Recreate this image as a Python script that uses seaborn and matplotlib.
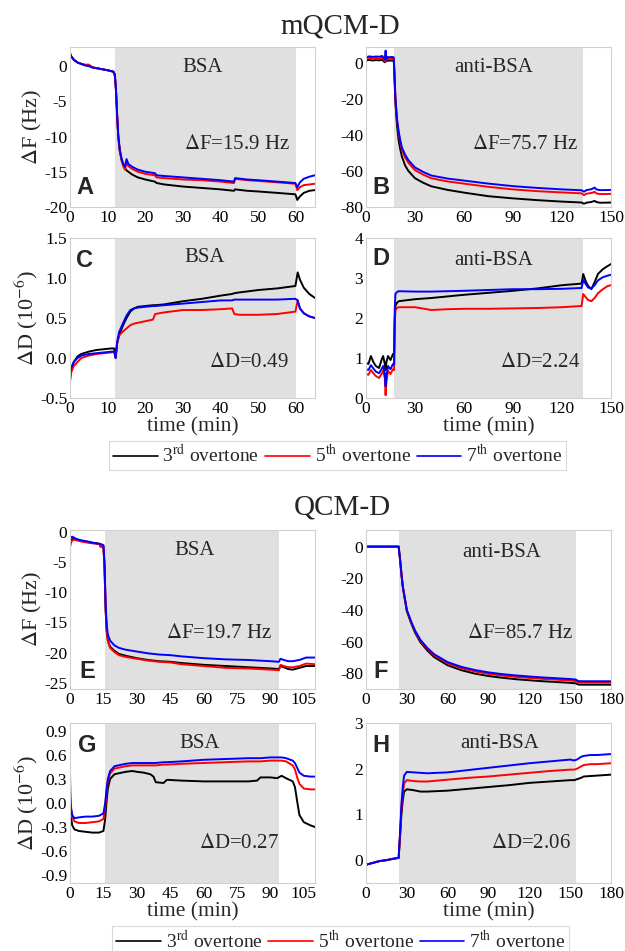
import pandas as pd
import matplotlib
matplotlib.use("Agg")
import matplotlib.pyplot as plt
import seaborn as sns
from matplotlib.ticker import MultipleLocator, AutoMinorLocator, FormatStrFormatter
from matplotlib.lines import Line2D

# ---------------- mQCM-D ----------------
# A: BSA, frequency
tA = [0, 0.3, 1, 2, 3, 4, 5, 6, 8, 10, 11.5, 11.9, 12.2, 12.5, 12.8, 13.2, 13.7, 14.2, 14.6, 15, 15.5,
      16.5, 18, 20, 22.5, 23, 25, 30, 35, 40, 43.5, 43.8, 47, 50, 55, 59.8, 60.3, 61, 62, 63.5, 65]
fA3 = [1.8, 1.4, 0.9, 0.5, 0.3, 0.1, 0.0, -0.2, -0.4, -0.6, -0.8, -1.2, -3.5, -7, -10, -12, -13.3, -14.0, -14.5, -14.8, -15.0,
       -15.4, -15.8, -16.1, -16.4, -16.6, -16.8, -17.1, -17.3, -17.5, -17.7, -17.5, -17.7, -17.8, -18.0, -18.2, -19.0, -18.5, -18.0, -17.7, -17.6]
fA5 = [1.8, 1.4, 0.9, 0.5, 0.3, 0.2, 0.2, -0.2, -0.4, -0.6, -0.8, -1.5, -3.5, -7, -10, -12, -13.5, -14.3, -14.7, -13.6, -14.2,
       -14.6, -15.0, -15.3, -15.5, -15.8, -15.9, -16.1, -16.2, -16.4, -16.6, -16.0, -16.2, -16.3, -16.5, -16.7, -17.6, -17.2, -16.9, -16.8, -16.7]
fA7 = [1.8, 1.4, 0.9, 0.5, 0.3, 0.1, 0.0, -0.2, -0.4, -0.6, -0.8, -1.2, -3.3, -6.8, -9.8, -11.8, -13.2, -14.0, -14.3, -13.2, -13.9,
       -14.3, -14.7, -15.0, -15.2, -15.5, -15.6, -15.8, -16.0, -16.2, -16.4, -15.9, -16.1, -16.2, -16.4, -16.6, -17.2, -16.5, -16.0, -15.7, -15.5]

# B: anti-BSA, frequency
tB = [0, 2, 4, 6, 8, 10, 11.5, 12, 12.5, 13, 14, 16, 17, 17.5, 18, 19, 20, 21, 22, 24, 26, 30, 35, 40, 50, 60,
      75, 90, 105, 120, 132, 133.5, 135, 138, 140, 141, 143, 146, 150]
fB3 = [1.5, 1.8, 1.5, 1.7, 1.6, 1.8, 0.5, 2.5, 1.0, 1.5, 1.4, 1.5, 1.3, -10, -22, -35, -43, -48, -52, -57, -60, -64, -66.5, -68.5, -70.5, -72,
       -74, -75.2, -76.2, -77, -77.5, -78.2, -77.6, -77.2, -76.6, -77.2, -77.6, -77.6, -77.5]
fB5 = [2.5, 3.0, 2.6, 2.8, 2.7, 3.0, 1.0, 4.5, 1.5, 2.5, 2.4, 2.6, 2.3, -8, -20, -32, -39, -44, -48, -52.5, -55.5, -59.5, -62, -64, -65.8, -67,
       -68.8, -70.2, -71.2, -71.9, -72.4, -73.4, -72.6, -72.2, -71.6, -72.4, -72.8, -72.8, -72.7]
fB7 = [3.3, 3.8, 3.5, 3.7, 3.6, 4.0, 2.0, 7.0, 2.0, 3.5, 3.3, 3.5, 3.2, -7, -19, -31, -38, -43, -47, -51, -54, -58, -60.5, -62.5, -64.2, -65.3,
       -67, -68.4, -69.4, -70.2, -70.7, -71.5, -70.6, -70.1, -69.2, -70.2, -70.6, -70.6, -70.5]

# C: BSA, dissipation
tC = [0, 0.3, 1, 2, 3, 5, 7, 9, 11, 11.7, 12.1, 12.5, 13, 14, 15, 16, 17, 18, 20, 22, 22.6, 25, 30, 35, 40, 43,
      43.6, 45, 50, 55, 59.8, 60.4, 61, 62, 63.5, 65]
dC3 = [-0.3, -0.15, -0.05, 0.02, 0.05, 0.08, 0.1, 0.11, 0.12, 0.12, 0.0, 0.18, 0.28, 0.4, 0.5, 0.58, 0.62, 0.64, 0.65, 0.66, 0.66, 0.67, 0.71, 0.74, 0.78, 0.8,
       0.81, 0.82, 0.85, 0.87, 0.9, 1.07, 0.98, 0.88, 0.8, 0.75]
dC5 = [-0.25, -0.18, -0.1, -0.05, 0.0, 0.03, 0.05, 0.06, 0.07, 0.08, 0.0, 0.18, 0.28, 0.33, 0.37, 0.41, 0.43, 0.44, 0.46, 0.48, 0.55, 0.57, 0.6, 0.6, 0.61, 0.62,
       0.55, 0.54, 0.54, 0.55, 0.58, 0.72, 0.62, 0.56, 0.52, 0.5]
dC7 = [-0.2, -0.12, -0.05, 0.0, 0.03, 0.05, 0.06, 0.07, 0.08, 0.08, 0.0, 0.2, 0.32, 0.43, 0.53, 0.6, 0.62, 0.63, 0.64, 0.65, 0.65, 0.66, 0.68, 0.7, 0.72, 0.72,
       0.73, 0.73, 0.73, 0.73, 0.74, 0.72, 0.62, 0.56, 0.52, 0.5]

# D: anti-BSA, dissipation
tD = [0, 1.5, 3, 4.5, 6, 8, 9.5, 10.5, 11.5, 12, 12.5, 13.5, 15, 16.5, 17.2, 17.6, 18, 19, 20, 30, 40, 50, 60, 75, 90,
      105, 120, 132, 133, 134.5, 136, 138, 140, 142, 145, 148, 150]
dD3 = [0.88, 0.85, 1.05, 0.9, 0.8, 0.75, 0.95, 1.05, 0.85, 0.7, 0.9, 1.05, 0.95, 1.1, 1.1, 2.0, 2.3, 2.38, 2.42, 2.47, 2.5, 2.54, 2.58, 2.63, 2.68,
       2.74, 2.82, 2.86, 3.1, 2.92, 2.8, 2.72, 2.9, 3.1, 3.22, 3.3, 3.35]
dD5 = [0.6, 0.58, 0.7, 0.62, 0.55, 0.5, 0.6, 0.68, 0.5, 0.07, 0.4, 0.68, 0.6, 0.72, 0.7, 1.8, 2.2, 2.25, 2.27, 2.27, 2.2, 2.22, 2.23, 2.23, 2.24,
       2.25, 2.27, 2.3, 2.6, 2.52, 2.45, 2.42, 2.5, 2.62, 2.72, 2.8, 2.82]
dD7 = [0.72, 0.7, 0.82, 0.74, 0.66, 0.62, 0.72, 0.8, 0.62, 0.3, 0.55, 0.8, 0.72, 0.85, 0.84, 2.2, 2.6, 2.65, 2.67, 2.66, 2.66, 2.67, 2.68, 2.7, 2.72,
       2.72, 2.73, 2.75, 2.95, 2.85, 2.76, 2.74, 2.82, 2.94, 3.02, 3.06, 3.08]

# ---------------- QCM-D ----------------
# E: BSA, frequency
tE = [0, 0.5, 1, 2, 3, 5, 8, 10, 12, 13.3, 13.7, 15, 15.5, 16, 16.5, 17, 18, 20, 22, 25, 30, 35, 40, 45, 50, 60,
      70, 80, 90, 93.8, 94.5, 96, 98, 100, 103, 106, 110]
fE3 = [-1.8, -1.4, -1.2, -1.2, -1.3, -1.5, -1.7, -1.8, -1.9, -2.0, -2.4, -2.4, -6, -13, -16.5, -18, -19, -19.7, -20.2, -20.5, -20.9, -21.2, -21.4, -21.5, -21.7, -22.0,
       -22.2, -22.4, -22.6, -22.7, -22.2, -22.4, -22.7, -22.8, -22.5, -22.2, -22.2]
fE5 = [-2.5, -1.8, -1.4, -1.3, -1.4, -1.6, -1.8, -1.9, -2.0, -2.0, -2.5, -2.4, -6, -13, -16.5, -18, -19.2, -19.9, -20.4, -20.7, -21.0, -21.3, -21.5, -21.6, -21.9, -22.2,
       -22.5, -22.6, -22.8, -22.9, -22.0, -22.2, -22.4, -22.4, -22.2, -21.8, -21.9]
fE7 = [-1.2, -0.9, -0.8, -1.0, -1.2, -1.4, -1.6, -1.8, -1.9, -2.0, -2.0, -2.2, -5, -12, -15.5, -17, -18, -18.8, -19.2, -19.5, -19.8, -20.1, -20.3, -20.4, -20.6, -20.9,
       -21.1, -21.2, -21.4, -21.5, -21.0, -21.2, -21.4, -21.4, -21.2, -20.8, -20.8]

# F: anti-BSA, frequency
tF = [0, 10, 20, 24, 25, 26, 27, 28, 30, 33, 36, 40, 45, 50, 60, 70, 80, 90, 100, 110, 120, 130, 140, 150,
      154, 156, 160, 170, 180]
fF3 = [0, 0, 0, 0, -8, -17, -25.2, -30.5, -40.8, -48, -54.3, -60.5, -65.6, -69.8, -75, -78.1, -80.3, -81.8, -82.9, -83.8, -84.5, -85.1, -85.6, -86.1,
       -86.4, -87.2, -87.3, -87.3, -87.3]
fF5 = [0, 0, 0, 0, -8, -17, -25, -30.2, -40.3, -47.4, -53.5, -59.6, -64.6, -68.7, -73.8, -76.8, -78.9, -80.4, -81.5, -82.3, -83.0, -83.6, -84.1, -84.6,
       -84.9, -85.9, -86.0, -86.0, -86.0]
fF7 = [0, 0, 0, 0, -8, -17, -25, -30, -40, -47, -53, -59, -64, -68, -73, -76, -78, -79.5, -80.6, -81.4, -82.1, -82.7, -83.2, -83.7,
       -84, -85, -85.1, -85.1, -85.1]

# G: BSA, dissipation
tG = [0, 0.3, 1, 2, 4, 7, 10, 13, 15, 15.8, 16.5, 17, 18, 20, 25, 28, 30, 33, 36, 37.5, 38.5, 42, 43.5, 50, 60,
      70, 80, 84, 85.5, 90, 93, 95, 97, 100, 101, 102, 103, 105, 108, 110]
dG3 = [0.05, -0.15, -0.28, -0.33, -0.35, -0.36, -0.37, -0.37, -0.35, -0.2, 0.05, 0.18, 0.3, 0.36, 0.39, 0.4, 0.39, 0.38, 0.36, 0.33, 0.26, 0.25, 0.29, 0.28, 0.27,
       0.27, 0.27, 0.28, 0.32, 0.32, 0.31, 0.34, 0.31, 0.27, 0.2, 0.02, -0.15, -0.24, -0.28, -0.3]
dG5 = [0.38, 0.0, -0.18, -0.23, -0.25, -0.25, -0.24, -0.23, -0.2, -0.05, 0.15, 0.27, 0.37, 0.43, 0.46, 0.47, 0.47, 0.47, 0.47, 0.47, 0.47, 0.48, 0.48, 0.49, 0.5,
       0.51, 0.52, 0.52, 0.52, 0.53, 0.53, 0.53, 0.52, 0.47, 0.42, 0.32, 0.24, 0.18, 0.17, 0.17]
dG7 = [0.15, -0.05, -0.15, -0.19, -0.18, -0.17, -0.17, -0.16, -0.13, 0.0, 0.2, 0.3, 0.4, 0.46, 0.49, 0.5, 0.5, 0.5, 0.5, 0.5, 0.5, 0.51, 0.51, 0.52, 0.54,
       0.55, 0.56, 0.56, 0.56, 0.57, 0.57, 0.57, 0.56, 0.53, 0.5, 0.44, 0.38, 0.34, 0.33, 0.33]

# H: anti-BSA, dissipation
tH = [0, 5, 10, 15, 20, 24, 25, 26, 27, 28, 30, 35, 40, 45, 60, 75, 90, 105, 120, 135, 150, 153, 155, 158,
      160, 165, 170, 180]
dH3 = [-0.1, -0.06, -0.02, 0.0, 0.03, 0.05, 0.5, 1.0, 1.3, 1.5, 1.55, 1.53, 1.5, 1.5, 1.52, 1.56, 1.6, 1.64, 1.69, 1.72, 1.75, 1.75, 1.77, 1.8,
       1.83, 1.84, 1.85, 1.87]
dH5 = [-0.1, -0.06, -0.02, 0.0, 0.03, 0.05, 0.55, 1.1, 1.45, 1.68, 1.75, 1.73, 1.72, 1.72, 1.76, 1.8, 1.83, 1.87, 1.91, 1.95, 1.98, 1.98, 2.0, 2.05,
       2.08, 2.1, 2.1, 2.12]
dH7 = [-0.1, -0.06, -0.02, 0.0, 0.03, 0.05, 0.6, 1.2, 1.6, 1.85, 1.93, 1.92, 1.91, 1.9, 1.92, 1.97, 2.02, 2.07, 2.12, 2.16, 2.2, 2.18, 2.2, 2.26,
       2.28, 2.3, 2.3, 2.32]

overtones = [r"3$^{\rm rd}$ overtone", r"5$^{\rm th}$ overtone", r"7$^{\rm th}$ overtone"]
colors = ["black", "#ff0000", "#0000ff"]

sns.set_style("white")
plt.rcParams["font.family"] = ["Liberation Serif", "DejaVu Serif"]
plt.rcParams["mathtext.fontset"] = "stix"
plt.rcParams["axes.unicode_minus"] = False

fig = plt.figure(figsize=(6.25, 9.51), dpi=100)

W, H = 625, 951
def axes_at(x0, y0, x1, y1):
    return fig.add_axes([x0 / W, 1 - y1 / H, (x1 - x0) / W, (y1 - y0) / H])

# panel: data, x range, x step, y range, y ticks, shaded span, labels
panels = [
    ("A", (70, 47, 315, 207), tA, [fA3, fA5, fA7], (0, 65), 10, (-20, 2.7), [-20, -15, -10, -5, 0], None,
     (12, 60), "BSA", (0.54, 0.87), r"$\Delta$F=15.9 Hz", (0.68, 0.39), (0.06, 0.12)),
    ("B", (366, 47, 611, 207), tB, [fB3, fB5, fB7], (0, 150), 30, (-80, 9), [-80, -60, -40, -20, 0], None,
     (17, 133), "anti-BSA", (0.52, 0.87), r"$\Delta$F=75.7 Hz", (0.65, 0.39), (0.06, 0.12)),
    ("C", (70, 238, 315, 398), tC, [dC3, dC5, dC7], (0, 65), 10, (-0.5, 1.5), [-0.5, 0, 0.5, 1.0, 1.5], "%.1f",
     (12, 60), "BSA", (0.55, 0.88), r"$\Delta$D=0.49", (0.73, 0.22), (0.06, 0.86)),
    ("D", (366, 238, 611, 398), tD, [dD3, dD5, dD7], (0, 150), 30, (0, 4), [0, 1, 2, 3, 4], "%d",
     (17, 133), "anti-BSA", (0.52, 0.86), r"$\Delta$D=2.24", (0.71, 0.22), (0.06, 0.87)),
    ("E", (70, 530, 315, 689), tE, [fE3, fE5, fE7], (0, 110), 15, (-26, 0.3), [-25, -20, -15, -10, -5, 0], None,
     (15.5, 94), "BSA", (0.51, 0.87), r"$\Delta$F=19.7 Hz", (0.61, 0.35), (0.07, 0.11)),
    ("F", (366, 530, 611, 689), tF, [fF3, fF5, fF7], (0, 180), 30, (-90, 10.5), [-80, -60, -40, -20, 0], None,
     (24.5, 154.5), "anti-BSA", (0.555, 0.86), r"$\Delta$F=85.7 Hz", (0.63, 0.35), (0.06, 0.11)),
    ("G", (70, 723, 315, 883), tG, [dG3, dG5, dG7], (0, 110), 15, (-1.0, 1.0), [-0.9, -0.6, -0.3, 0, 0.3, 0.6, 0.9], "%.1f",
     (15.5, 94), "BSA", (0.53, 0.87), r"$\Delta$D=0.27", (0.69, 0.25), (0.07, 0.86)),
    ("H", (366, 723, 611, 883), tH, [dH3, dH5, dH7], (0, 180), 30, (-0.5, 3), [0, 1, 2, 3], "%d",
     (24.5, 154.5), "anti-BSA", (0.545, 0.87), r"$\Delta$D=2.06", (0.675, 0.25), (0.06, 0.86)),
]

for (tag, box, t, series, xlim, xstep, ylim, yticks, yfmt, span, lab, labpos, delta, dpos, tagpos) in panels:
    ax = axes_at(*box)
    ax.axvspan(*span, color="#e0e0e0", lw=0, zorder=0)
    for vals, c in zip(series, colors):
        df = pd.DataFrame({"t": t, "v": vals})
        sns.lineplot(data=df, x="t", y="v", color=c, lw=1.4, ax=ax, estimator=None, sort=False)
    ax.set_xlim(*xlim)
    ax.set_ylim(*ylim)
    ax.xaxis.set_major_locator(MultipleLocator(xstep))
    ax.xaxis.set_minor_locator(AutoMinorLocator(2))
    ax.set_yticks(yticks)
    ax.yaxis.set_minor_locator(AutoMinorLocator(2))
    if yfmt:
        ax.yaxis.set_major_formatter(FormatStrFormatter(yfmt))
    ax.tick_params(which="both", direction="in", colors="#b0b0b0", labelcolor="black",
                   labelsize=12.5, pad=2)
    ax.tick_params(which="major", length=3)
    ax.tick_params(which="minor", length=2)
    for s in ax.spines.values():
        s.set_color("#d0d0d0")
        s.set_linewidth(0.8)
    ax.set_xlabel("")
    ax.set_ylabel("")
    if tag in ("A", "E"):
        ax.set_ylabel(r"$\Delta$F (Hz)", fontsize=16, labelpad=0)
    if tag in ("C", "G"):
        ax.set_ylabel(r"$\Delta$D (10$^{-6}$)", fontsize=16, labelpad=0)
    if tag in ("C", "D", "G", "H"):
        ax.set_xlabel("time (min)", fontsize=15.5, labelpad=0)
    ax.text(*labpos, lab, transform=ax.transAxes, ha="center", va="center", fontsize=15)
    ax.text(*dpos, delta, transform=ax.transAxes, ha="center", va="center", fontsize=15)
    ax.text(*tagpos, tag, transform=ax.transAxes, ha="center", va="center", fontsize=17,
            fontweight="bold", family=["Liberation Sans", "DejaVu Sans"])

fig.text(0.544, 0.972, "mQCM-D", ha="center", va="center", fontsize=21)
fig.text(0.548, 0.466, "QCM-D", ha="center", va="center", fontsize=21)

handles = [Line2D([], [], color=c, lw=1.2) for c in colors]
legend_spots = [(0.54, 1 - 455.5 / H), (0.545, 1 - 941 / H)]
for spot in legend_spots:
    leg = fig.legend(handles, overtones, loc="center", bbox_to_anchor=spot,
                     ncol=3, fontsize=14, frameon=True, fancybox=False, edgecolor="#d0d0d0",
                     handlelength=2.3, handletextpad=0.25, columnspacing=0.3, borderpad=0.2, borderaxespad=0)
    leg.get_frame().set_linewidth(0.8)

fig.savefig("out.png", dpi=100)
